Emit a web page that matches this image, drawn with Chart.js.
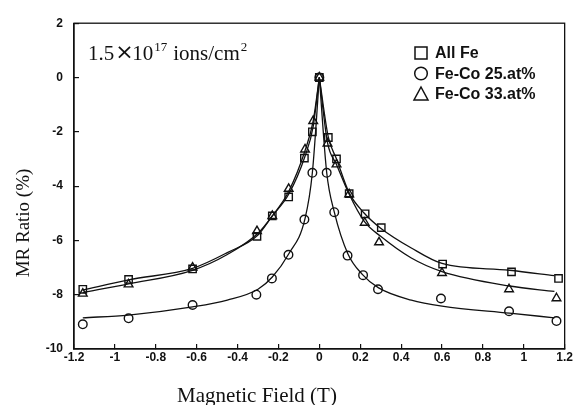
<!DOCTYPE html>
<html>
<head>
<meta charset="utf-8">
<script src="https://cdn.jsdelivr.net/npm/chart.js@4/dist/chart.umd.min.js"></script>
<style>
  html, body { margin: 0; padding: 0; background: #fff; }
  #wrap { width: 579px; height: 405px; position: relative; }
</style>
</head>
<body>
<div id="wrap"><canvas id="chart"></canvas></div>
<script>
// measured points (x = field in T, y = MR ratio in %)
const feX  = [-1.157, -0.933, -0.62, -0.305, -0.23, -0.15, -0.073, -0.034, 0, 0.044, 0.084, 0.146, 0.224, 0.303, 0.603, 0.94, 1.17];
const feY  = [-7.8, -7.44, -7.05, -5.85, -5.1, -4.4, -2.97, -2.0, 0, -2.21, -3.0, -4.28, -5.02, -5.53, -6.87, -7.16, -7.4];

const co25X = [-1.157, -0.933, -0.62, -0.308, -0.232, -0.151, -0.073, -0.034, 0, 0.036, 0.073, 0.138, 0.214, 0.287, 0.595, 0.928, 1.16];
const co25Y = [-9.09, -8.87, -8.38, -8.0, -7.4, -6.53, -5.23, -3.51, 0, -3.51, -4.96, -6.56, -7.28, -7.8, -8.14, -8.61, -8.97];

const co33X = [-1.157, -0.933, -0.62, -0.305, -0.23, -0.15, -0.07, -0.03, 0, 0.04, 0.084, 0.146, 0.222, 0.292, 0.6, 0.928, 1.16];
const co33Y = [-7.96, -7.62, -7.0, -5.66, -5.1, -4.1, -2.65, -1.6, 0, -2.43, -3.2, -4.3, -5.35, -6.07, -7.2, -7.8, -8.13];

// fitted curves, left and right branches
const feFitLX = [-1.157, -0.933, -0.62, -0.45, -0.3, -0.23, -0.15, -0.07, -0.03, 0];
const feFitLY = [-7.83, -7.45, -7.03, -6.45, -5.8, -5.1, -4.3, -2.9, -1.8, 0];
const feFitRX = [0, 0.044, 0.084, 0.146, 0.22, 0.3, 0.45, 0.6, 0.93, 1.15];
const feFitRY = [0, -2.2, -3.0, -4.25, -5.0, -5.55, -6.28, -6.85, -7.1, -7.3];

const co25FitLX = [-1.157, -0.933, -0.62, -0.45, -0.3, -0.23, -0.15, -0.07, -0.034, 0];
const co25FitLY = [-8.85, -8.75, -8.45, -8.2, -7.8, -7.35, -6.5, -5.2, -3.5, 0];
const co25FitRX = [0, 0.036, 0.073, 0.14, 0.21, 0.29, 0.45, 0.6, 0.93, 1.15];
const co25FitRY = [0, -3.5, -4.95, -6.5, -7.25, -7.75, -8.2, -8.42, -8.68, -8.85];

const co33FitLX = [-1.157, -0.933, -0.62, -0.45, -0.3, -0.23, -0.15, -0.07, -0.03, 0];
const co33FitLY = [-7.92, -7.6, -7.1, -6.52, -5.74, -5.1, -4.2, -2.7, -1.6, 0];
const co33FitRX = [0, 0.04, 0.084, 0.146, 0.22, 0.3, 0.45, 0.6, 0.93, 1.15];
const co33FitRY = [0, -2.4, -3.2, -4.3, -5.3, -5.85, -6.65, -7.15, -7.68, -7.88];

const seriesLabels = ['All Fe', 'Fe-Co 25.at%', 'Fe-Co 33.at%'];
const xTicks = [-1.2, 1.2, 0.2];   // min, max, step
const yTicks = [-10, 2, 2];

const pts = (xs, ys) => xs.map((x, i) => ({x: x, y: ys[i]}));
const plainNum = v => String(Math.round(v * 10) / 10);

function markerSet(label, xs, ys, style, r) {
  return {
    label: label, data: pts(xs, ys), showLine: false,
    pointStyle: style, pointRadius: r, pointBorderWidth: 1.4,
    pointBorderColor: '#111', pointBackgroundColor: 'rgba(255,255,255,0)',
    borderColor: '#111', backgroundColor: 'rgba(255,255,255,0)', order: 1
  };
}
function curveSet(xs, ys) {
  return {
    label: '', data: pts(xs, ys), showLine: true, pointRadius: 0,
    borderColor: '#111', borderWidth: 1.3, cubicInterpolationMode: 'monotone',
    fill: false, order: 2
  };
}

const annot = {
  id: 'annot',
  afterDraw(chart) {
    const ctx = chart.ctx, a = chart.chartArea;
    ctx.save();
    // frame
    ctx.strokeStyle = '#111';
    ctx.lineWidth = 1.3;
    ctx.strokeRect(a.left, a.top, a.right - a.left, a.bottom - a.top);

    // dose label
    ctx.fillStyle = '#111';
    ctx.textBaseline = 'alphabetic';
    ctx.textAlign = 'left';
    let x = 88, y = 60;
    const big = '21px "Liberation Serif", serif', sup = '13px "Liberation Serif", serif';
    ctx.font = big; ctx.fillText('1.5', x, y); x += ctx.measureText('1.5').width + 1;
    ctx.font = '22px "DejaVu Sans", sans-serif'; ctx.fillText('\u00d7', x, y - 1); x += 17;
    ctx.font = big; ctx.fillText('10', x, y); x += ctx.measureText('10').width + 1;
    ctx.font = sup; ctx.fillText('17', x, y - 9); x += ctx.measureText('17').width + 6;
    ctx.font = big; ctx.fillText('ions/cm', x, y); x += ctx.measureText('ions/cm').width + 1;
    ctx.font = sup; ctx.fillText('2', x, y - 9);

    // legend
    const styles = ['rect', 'circle', 'triangle'];
    ctx.font = 'bold 16px "Liberation Sans", sans-serif';
    ctx.textBaseline = 'middle';
    ctx.lineWidth = 1.5;
    seriesLabels.forEach((t, i) => {
      const cy = 53 + i * 20.5, cx = 421;
      ctx.beginPath();
      if (styles[i] === 'rect') ctx.rect(cx - 6, cy - 6, 12, 12);
      else if (styles[i] === 'circle') ctx.arc(cx, cy, 6.3, 0, Math.PI * 2);
      else { ctx.moveTo(cx, cy - 7); ctx.lineTo(cx + 7, cy + 6); ctx.lineTo(cx - 7, cy + 6); ctx.closePath(); }
      ctx.stroke();
      ctx.fillText(t, 435, cy + 1);
    });

    // axis titles
    ctx.textAlign = 'center';
    ctx.font = '21px "Liberation Serif", serif';
    ctx.fillText('Magnetic Field (T)', 257, 396);
    ctx.translate(24, 223);
    ctx.rotate(-Math.PI / 2);
    ctx.font = '19px "Liberation Serif", serif';
    ctx.fillText('MR Ratio (%)', 0, 0);
    ctx.restore();
  }
};

new Chart(document.getElementById('chart'), {
  type: 'scatter',
  data: {
    datasets: [
      curveSet(feFitLX, feFitLY), curveSet(feFitRX, feFitRY),
      curveSet(co25FitLX, co25FitLY), curveSet(co25FitRX, co25FitRY),
      curveSet(co33FitLX, co33FitLY), curveSet(co33FitRX, co33FitRY),
      markerSet(seriesLabels[0], feX, feY, 'rect', 5.2),
      markerSet(seriesLabels[1], co25X, co25Y, 'circle', 4.3),
      markerSet(seriesLabels[2], co33X, co33Y, 'triangle', 5)
    ]
  },
  options: {
    responsive: true,
    maintainAspectRatio: false,
    animation: false,
    layout: { padding: { top: 18, right: 9, bottom: 0, left: 0 } },
    plugins: { legend: { display: false }, tooltip: { enabled: false } },
    scales: {
      x: {
        type: 'linear', min: xTicks[0], max: xTicks[1],
        ticks: { stepSize: xTicks[2], color: '#111', padding: 6, callback: plainNum,
                 font: { family: '"Liberation Sans", sans-serif', size: 12, weight: 'bold' } },
        grid: { drawOnChartArea: false, drawTicks: true, tickLength: -5, color: '#111', lineWidth: 1.2 },
        border: { display: true, color: '#111', width: 1.3 },
        afterFit(s) { s.height = 56; }
      },
      y: {
        type: 'linear', min: yTicks[0], max: yTicks[1],
        ticks: { stepSize: yTicks[2], color: '#111', padding: 16, callback: plainNum,
                 font: { family: '"Liberation Sans", sans-serif', size: 12, weight: 'bold' } },
        grid: { drawOnChartArea: false, drawTicks: true, tickLength: -5, color: '#111', lineWidth: 1.2 },
        border: { display: true, color: '#111', width: 1.3 },
        afterFit(s) { s.width = 74; }
      }
    }
  },
  plugins: [annot]
});
</script>
</body>
</html>
